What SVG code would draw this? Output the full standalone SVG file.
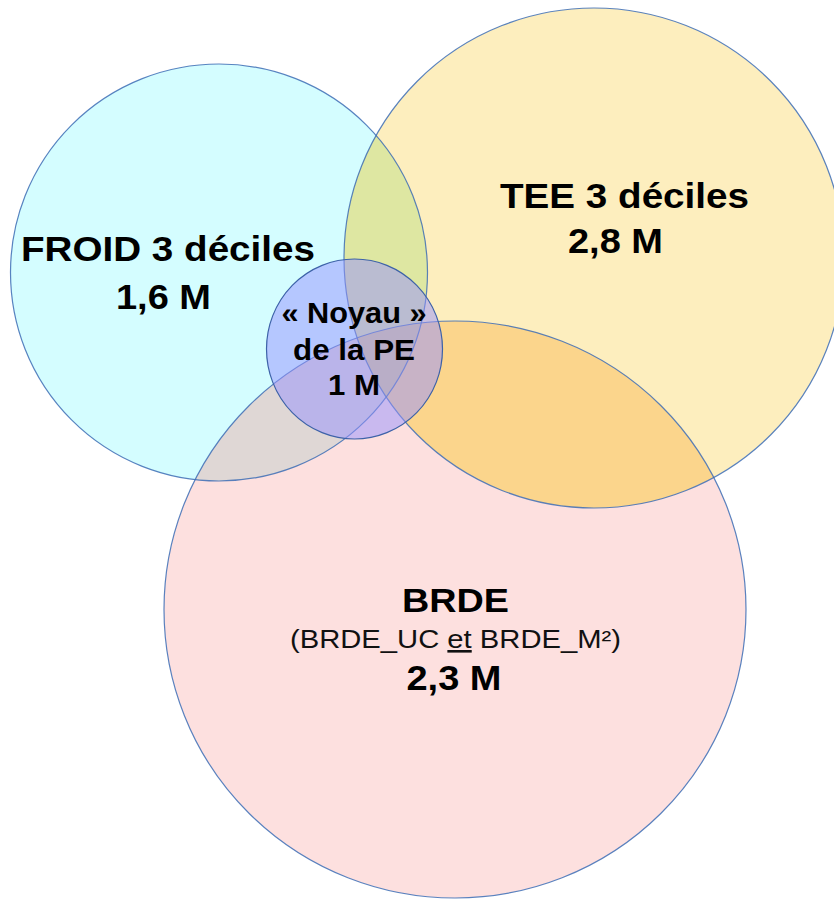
<svg xmlns="http://www.w3.org/2000/svg" width="834" height="901" viewBox="0 0 834 901">
<style>
.lbl{font-family:"Liberation Sans",Arial,sans-serif;font-weight:bold;fill:#000;text-anchor:middle}
.sub{font-family:"Liberation Sans",Arial,sans-serif;font-weight:normal;fill:#111;text-anchor:middle}
.edge{fill:none;stroke:#3d6db5;stroke-width:1.2;stroke-opacity:0.85}
</style>
<defs>
<circle id="shF" cx="219" cy="272.5" r="208.5"/>
<circle id="shT" cx="594" cy="258" r="250"/>
<ellipse id="shB" cx="455" cy="609.5" rx="291" ry="288.5"/>
<clipPath id="cF"><use href="#shF"/></clipPath>
<clipPath id="cT"><use href="#shT"/></clipPath>
</defs>
<rect width="834" height="901" fill="#fff"/>
<g id="froid">
<use href="#shF" fill="#d4fdff"/>
<text class="lbl" x="168" y="261" font-size="35" textLength="294" lengthAdjust="spacingAndGlyphs">FROID 3 déciles</text>
<text class="lbl" x="163.5" y="309" font-size="35" textLength="95" lengthAdjust="spacingAndGlyphs">1,6 M</text>
</g>
<g id="tee">
<use href="#shT" fill="#fdeebe"/>
<text class="lbl" x="624.5" y="208" font-size="35" textLength="249" lengthAdjust="spacingAndGlyphs">TEE 3 déciles</text>
<text class="lbl" x="615.5" y="253" font-size="35" textLength="95" lengthAdjust="spacingAndGlyphs">2,8 M</text>
</g>
<g id="brde">
<use href="#shB" fill="#fde0df"/>
<text class="lbl" x="455.5" y="612" font-size="33" textLength="107" lengthAdjust="spacingAndGlyphs">BRDE</text>
<text class="sub" x="455.5" y="648" font-size="26" textLength="331" lengthAdjust="spacingAndGlyphs">(BRDE_UC <tspan text-decoration="underline">et</tspan> BRDE_M²)</text>
<text class="lbl" x="454" y="690" font-size="35" textLength="95" lengthAdjust="spacingAndGlyphs">2,3 M</text>
</g>
<g id="overlaps">
<use href="#shT" fill="#dee7a2" clip-path="url(#cF)"/>
<use href="#shB" fill="#dfd7d5" clip-path="url(#cF)"/>
<use href="#shB" fill="#fbd58c" clip-path="url(#cT)"/>
<g clip-path="url(#cT)"><use href="#shB" fill="#dccb8e" clip-path="url(#cF)"/></g>
</g>
<g id="outlines">
<use href="#shF" class="edge"/>
<use href="#shT" class="edge"/>
<use href="#shB" class="edge"/>
</g>
<g id="noyau">
<ellipse cx="354.5" cy="349" rx="88" ry="90" fill="rgb(150,145,255)" fill-opacity="0.5" stroke="#3d62a8" stroke-width="1.2"/>
<text class="lbl" x="354" y="323" font-size="30" textLength="145" lengthAdjust="spacingAndGlyphs">« Noyau »</text>
<text class="lbl" x="354" y="360" font-size="30" textLength="122" lengthAdjust="spacingAndGlyphs">de la PE</text>
<text class="lbl" x="354" y="395" font-size="30" textLength="52" lengthAdjust="spacingAndGlyphs">1 M</text>
</g>
</svg>
